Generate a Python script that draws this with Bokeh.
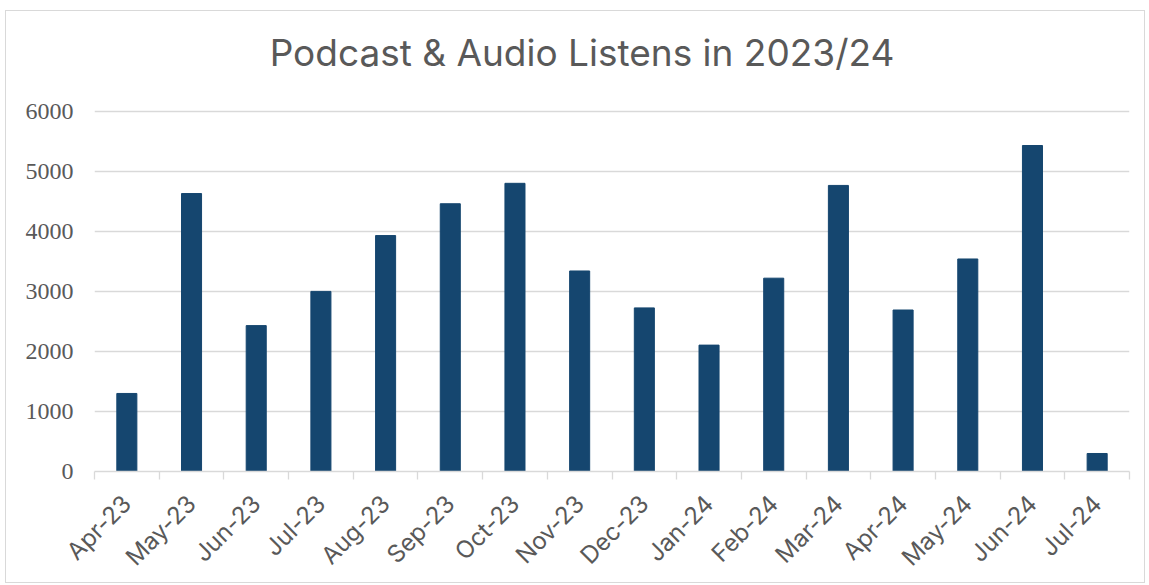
from math import pi
from bokeh.plotting import figure
from bokeh.models import (Range1d, LinearAxis, FixedTicker, ColumnDataSource)
from bokeh.core.properties import value
from bokeh.embed import file_html
from bokeh.resources import INLINE

months = ["Apr-23", "May-23", "Jun-23", "Jul-23", "Aug-23", "Sep-23", "Oct-23",
          "Nov-23", "Dec-23", "Jan-24", "Feb-24", "Mar-24", "Apr-24", "May-24",
          "Jun-24", "Jul-24"]
listens = [1300, 4630, 2430, 3000, 3930, 4460, 4800, 3340, 2725, 2105, 3220,
           4765, 2690, 3540, 5430, 300]
y_ticks = [0, 1000, 2000, 3000, 4000, 5000, 6000]
title_text = "Podcast & Audio Listens in 2023/24"

GREY = "#d9d9d9"
TEXT = "#595959"
BAR = "#15466f"

n = len(months)
idx = list(range(n))
edges = [i - 0.5 for i in range(n + 1)]

# canvas geometry (pixels): frame from top 1 to 461; axis max (6000) at 100
H, FRAME_TOP, FRAME_BOTTOM, Y6000 = 573, 1, 461, 100
y_end = 6000 * (FRAME_BOTTOM - FRAME_TOP) / (FRAME_BOTTOM - Y6000)
px_per_unit_y = (FRAME_BOTTOM - Y6000) / 6000
px_per_cat = (1123 - 88) / n
title_y = (FRAME_BOTTOM - 41) / px_per_unit_y
title_x = (n - 1) / 2 - 30 / px_per_cat

p = figure(width=1140, height=H, x_range=Range1d(-0.5, n - 0.5),
           y_range=Range1d(0, y_end),
           output_backend="svg", toolbar_location=None,
           x_axis_location=None, y_axis_location=None,
           min_border_left=88, min_border_right=17,
           min_border_top=FRAME_TOP, min_border_bottom=H - FRAME_BOTTOM)
p.outline_line_color = None
p.background_fill_color = "white"
p.border_fill_color = "white"
p.styles = {"border": "1px solid #d9d9d9", "margin-left": "5px",
            "margin-top": "10px"}

src = ColumnDataSource(dict(x=idx, month=months, listens=listens))
p.vbar(x="x", top="listens", width=0.31, source=src,
       fill_color=BAR, line_color=BAR)

# y axis
yaxis = LinearAxis(ticker=FixedTicker(ticks=y_ticks))
yaxis.axis_line_color = None
yaxis.major_tick_line_color = None
yaxis.minor_tick_line_color = None
yaxis.major_label_text_font = "Liberation Serif"
yaxis.major_label_text_font_size = "24px"
yaxis.major_label_text_color = TEXT
yaxis.major_label_standoff = 15
p.add_layout(yaxis, "left")

p.xgrid.grid_line_color = None
p.ygrid.ticker = FixedTicker(ticks=y_ticks)
p.ygrid.grid_line_color = GREY
p.ygrid.grid_line_width = 1.3

# x axis: labels at bar centres, tick marks at category boundaries
xaxis = LinearAxis(ticker=FixedTicker(ticks=idx, minor_ticks=edges),
                   major_label_overrides={i: m for i, m in zip(idx, months)})
xaxis.axis_line_color = GREY
xaxis.axis_line_width = 1.5
xaxis.major_tick_line_color = None
xaxis.minor_tick_line_color = GREY
xaxis.minor_tick_line_width = 1.3
xaxis.minor_tick_out = 8
xaxis.minor_tick_in = 0
xaxis.major_label_orientation = pi / 4
xaxis.major_label_text_font = "Inter"
xaxis.major_label_text_font_size = "24px"
xaxis.major_label_text_color = TEXT
xaxis.major_label_standoff = 20
p.add_layout(xaxis, "below")

# chart title
p.text(x=[title_x], y=[title_y], text=[title_text],
       text_font=value("Inter"), text_font_size="37px",
       text_color=TEXT, text_align="center", text_baseline="middle")

open("out.html", "w").write(file_html(p, INLINE))
